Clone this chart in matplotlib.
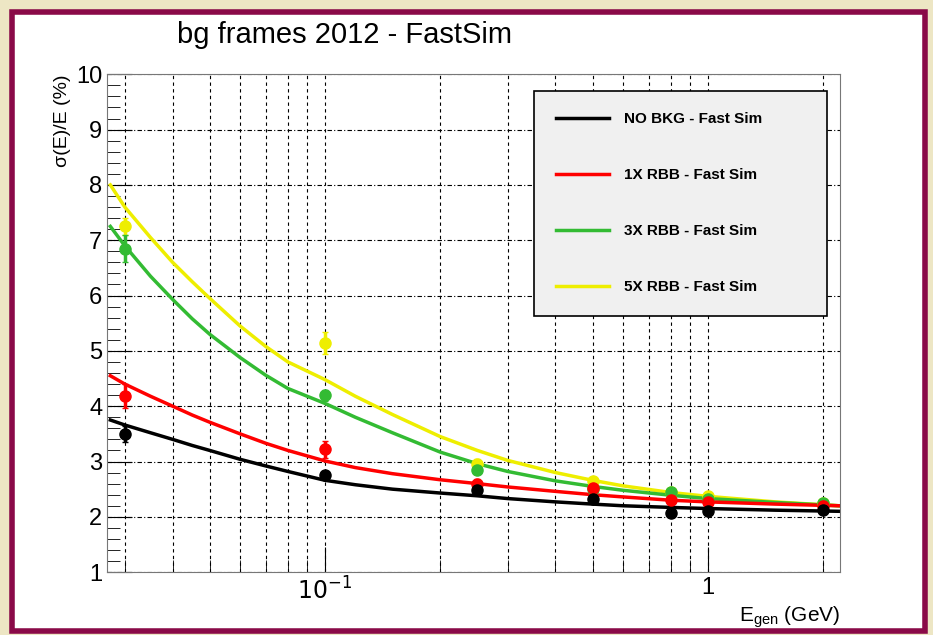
import matplotlib.pyplot as plt
from matplotlib.patches import Rectangle
from matplotlib.ticker import FixedLocator, NullFormatter, MultipleLocator, LogLocator

plt.rcParams['font.family'] = ['Liberation Sans', 'DejaVu Sans']

# measured points
energy = [0.03, 0.1, 0.25, 0.5, 0.8, 1.0, 2.0]
res_nobkg = [3.5, 2.75, 2.48, 2.33, 2.07, 2.1, 2.13]
err_nobkg = [0.15, 0.06, 0.06, 0.05, 0.05, 0.05, 0.05]
res_1x = [4.18, 3.22, 2.6, 2.52, 2.3, 2.27, 2.2]
err_1x = [0.22, 0.15, 0.08, 0.08, 0.1, 0.06, 0.1]
res_3x = [6.85, 4.2, 2.85, 2.5, 2.45, 2.33, 2.25]
err_3x = [0.25, 0.1, 0.08, 0.06, 0.08, 0.06, 0.05]
res_5x = [7.25, 5.15, 2.95, 2.65, 2.45, 2.38, 2.25]
err_5x = [0.15, 0.2, 0.1, 0.06, 0.06, 0.06, 0.05]

# fit curves
fit_e = [0.0275, 0.03, 0.035, 0.04, 0.045, 0.05, 0.06, 0.07, 0.08, 0.1, 0.12, 0.15,
         0.2, 0.25, 0.3, 0.4, 0.5, 0.6, 0.8, 1.0, 1.5, 2.2]
fit_nobkg = [3.75, 3.66, 3.52, 3.40, 3.29, 3.20, 3.04, 2.92, 2.82, 2.66, 2.58, 2.50,
             2.43, 2.38, 2.33, 2.27, 2.23, 2.20, 2.17, 2.15, 2.12, 2.10]
fit_1x = [4.55, 4.40, 4.18, 4.00, 3.84, 3.71, 3.50, 3.33, 3.20, 3.01, 2.89, 2.78,
          2.67, 2.60, 2.54, 2.46, 2.40, 2.36, 2.30, 2.27, 2.23, 2.20]
fit_3x = [7.25, 6.90, 6.35, 5.93, 5.58, 5.30, 4.88, 4.56, 4.32, 4.05, 3.80, 3.52,
          3.17, 2.96, 2.82, 2.65, 2.55, 2.48, 2.39, 2.33, 2.26, 2.20]
fit_5x = [8.00, 7.60, 7.05, 6.60, 6.25, 5.95, 5.45, 5.08, 4.80, 4.48, 4.18, 3.85,
          3.45, 3.20, 3.02, 2.80, 2.66, 2.56, 2.44, 2.37, 2.27, 2.20]

series = [
    (res_nobkg, err_nobkg, fit_nobkg, 'black', 'NO BKG - Fast Sim'),
    (res_1x, err_1x, fit_1x, '#ff0000', '1X RBB - Fast Sim'),
    (res_3x, err_3x, fit_3x, '#33bb33', '3X RBB - Fast Sim'),
    (res_5x, err_5x, fit_5x, '#eeee00', '5X RBB - Fast Sim'),
]

fig = plt.figure(figsize=(9.33, 6.35), dpi=100)
fig.patch.set_facecolor('#ede6c4')
fig.patches.append(Rectangle((0.013, 0.006), 0.978, 0.975, transform=fig.transFigure,
                             facecolor='white', edgecolor='#8a0a48', linewidth=4, zorder=-5))

ax = fig.add_axes([0.115, 0.099, 0.785, 0.784])
ax.set_xscale('log')
ax.set_xlim(0.027, 2.21)
ax.set_ylim(1, 10)

for vals, errs, fit, col, lab in reversed(series):
    ax.plot(fit_e, fit, color=col, lw=2.5, label=lab)
    ax.errorbar(energy, vals, yerr=errs, fmt='o', color=col, ms=8, elinewidth=2.5, capsize=2)

ax.xaxis.set_major_locator(FixedLocator([0.1, 1.0]))
ax.xaxis.set_minor_locator(LogLocator(base=10, subs=range(2, 10)))
ax.xaxis.set_minor_formatter(NullFormatter())
ax.set_xticklabels(['$10^{-1}$', '1'])
ax.yaxis.set_major_locator(MultipleLocator(1))
ax.yaxis.set_minor_locator(MultipleLocator(0.2))
ax.grid(True, which='major', axis='y', color='black', ls=(0, (4, 2, 1, 2)), lw=0.8)
ax.grid(True, which='both', axis='x', color='black', ls=(0, (3, 3)), lw=0.8)
ax.tick_params(which='both', direction='in', top=False, right=False, labelsize=17)
ax.tick_params(which='major', length=18)
ax.tick_params(which='minor', length=9)
for s in ax.spines.values():
    s.set_color('#777777')

ax.set_ylabel('σ(E)/E (%)', fontsize=14, loc='top')
ax.text(1.0, -0.09, '$\\mathregular{E_{gen}}$ (GeV)', transform=ax.transAxes,
        ha='right', va='center', fontsize=15)
fig.text(0.19, 0.945, 'bg frames 2012 - FastSim', fontsize=21, ha='left', va='center')

handles, labels = ax.get_legend_handles_labels()
lines = [h for h in handles if isinstance(h, plt.Line2D)][::-1]
leg = ax.legend(lines, [l.get_label() for l in lines], loc='upper right',
                bbox_to_anchor=(0.982, 0.967), fontsize=11, labelspacing=2.75,
                borderpad=1.4, handlelength=3.5, handletextpad=1.0, fancybox=False,
                facecolor='#f0f0f0', framealpha=1, edgecolor='black', borderaxespad=0)
leg.get_frame().set_linewidth(1.2)
for t in leg.get_texts():
    t.set_fontweight('bold')
    t.set_text(t.get_text() + '          ')

fig.savefig('out.png', dpi=100, facecolor=fig.get_facecolor())
